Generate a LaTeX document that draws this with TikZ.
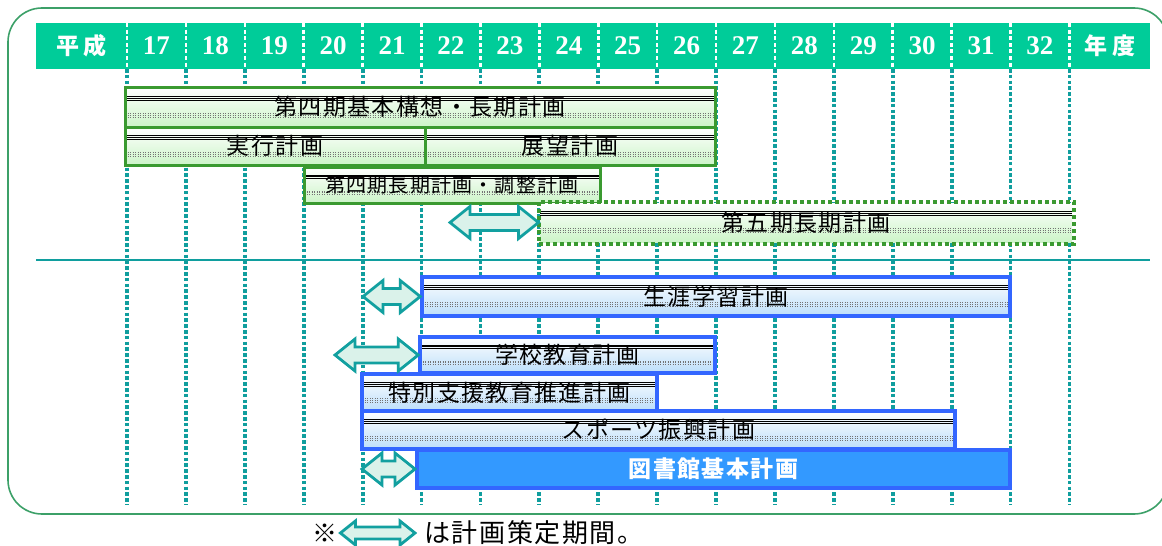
\documentclass[tikz,border=0pt]{standalone}
\usepackage{fontspec}
\setmainfont{Noto Sans CJK JP}
\newfontfamily\jp[LetterSpace=6]{Noto Sans CJK JP}
\newfontfamily\jphead[LetterSpace=20]{Noto Sans CJK JP}
\newfontfamily\numfont{Liberation Serif}
\usetikzlibrary{positioning, fit, calc}

\definecolor{headgreen}{RGB}{0,204,153}
\definecolor{gridteal}{RGB}{16,158,158}
\definecolor{framegreen}{RGB}{60,160,104}
\definecolor{bargreen}{RGB}{58,154,48}
\definecolor{greenfill}{RGB}{204,244,200}
\definecolor{barblue}{RGB}{51,102,255}
\definecolor{bluefill}{RGB}{188,222,250}
\definecolor{libblue}{RGB}{51,153,255}
\definecolor{arrowfill}{RGB}{218,242,234}
\definecolor{arrowteal}{RGB}{18,160,160}

\tikzstyle{frame}=[draw=framegreen, line width=0.8pt, rounded corners=17pt]
\tikzstyle{headband}=[fill=headgreen, inner sep=0pt]
\tikzstyle{headsep}=[white, line width=1.3pt, dash pattern=on 2pt off 1.3pt]
\tikzstyle{gridline}=[gridteal, line width=1.9pt, dash pattern=on 1.8pt off 1.1pt]
\tikzstyle{sepline}=[gridteal, line width=0.9pt]
\tikzstyle{headtext}=[white, font=\jphead\bfseries\fontsize{11.5}{12}\selectfont]
\tikzstyle{yeartext}=[white, font=\numfont\bfseries\fontsize{13.5}{14}\selectfont]
\tikzstyle{stripes}=[path picture={
  \foreach \f in {0.22,0.27,0.32}
    \draw[black, line width=0.3pt]
      ($(path picture bounding box.north west)!\f!(path picture bounding box.south west)$) --
      ($(path picture bounding box.north east)!\f!(path picture bounding box.south east)$);
  \foreach \f in {0.66,0.71,0.76}
    \draw[black!55, line width=0.25pt, densely dotted]
      ($(path picture bounding box.north west)!\f!(path picture bounding box.south west)$) --
      ($(path picture bounding box.north east)!\f!(path picture bounding box.south east)$);
}]
\tikzstyle{bar}=[inner sep=0pt]
\tikzstyle{greenbar}=[bar, draw=bargreen, line width=1.5pt, top color=white, bottom color=greenfill, stripes]
\tikzstyle{bluebar}=[bar, draw=barblue, line width=1.75pt, top color=white, bottom color=bluefill, stripes]
\tikzstyle{libbar}=[bar, draw=barblue, line width=2pt, fill=libblue]
\tikzstyle{bartext}=[inner sep=0pt, font=\jp\fontsize{11.5}{12}\selectfont]
\tikzstyle{smalltext}=[bartext, font=\jp\fontsize{10}{11}\selectfont]
\tikzstyle{libtext}=[bartext, text=white, font=\jp\bfseries\fontsize{11.5}{12}\selectfont]
\tikzstyle{planarrow}=[draw=arrowteal, line width=1.4pt, fill=arrowfill, line join=miter]
\tikzstyle{note}=[inner sep=1.25pt, font=\jp\fontsize{12.5}{13}\selectfont]

\newcommand{\dblarrow}[3][16]{%
  \draw[planarrow] (#2) -- ($(#2)+({1.25*#1},-#1)$) -- ++(0,{#1/2})
    -- ($(#3)+({-1.25*#1},{-#1/2})$) -- ++(0,{-#1/2}) -- (#3)
    -- ++({-1.25*#1},#1) -- ++(0,{-#1/2})
    -- ($(#2)+({1.25*#1},{#1/2})$) -- ++(0,{#1/2}) -- cycle;}

\begin{document}
\begin{tikzpicture}[x=0.5pt, y=-0.5pt]
  \useasboundingbox (0,0) rectangle (1162,546);
  \draw[frame] (8,8) rectangle (1168,514);
  \node[headband, fit={(36,23) (1150,69)}] (head) {};
  \foreach \i in {0,...,16} {
    \draw[headsep] ({127+58.9*\i},23) -- ({127+58.9*\i},69);
    \draw[gridline] ({127+58.9*\i},69) -- ({127+58.9*\i},505);
  }
  \node[headtext] (era) at (81.5,46) {平成};
  \foreach \y [count=\i from 0] in {17,...,32}
    \node[yeartext] (y\y) at ({127+58.9*(\i+0.5)},46) {\y};
  \node[headtext] (unit) at (1110,46) {年度};
  \draw[sepline] (36,260) -- (1150,260);

  \node[greenbar, fit={(125,87) (715,127)}] (plan4) {};
  \node[greenbar, fit={(125,127) (425,165)}] (exec) {};
  \node[greenbar, fit={(425,127) (715,165)}] (view) {};
  \node[greenbar, fit={(304,167) (600,203)}] (adjust) {};
  \node[greenbar, draw=none, fit={(540,203) (1072,242)}] (plan5) {};
  \draw[bargreen, line width=2pt, dash pattern=on 2pt off 1.5pt] (plan5.north west) rectangle (plan5.south east);
  \node[bartext] (plan4t) at (plan4) {第四期基本構想・長期計画};
  \node[bartext] (exect) at (exec) {実行計画};
  \node[bartext] (viewt) at (view) {展望計画};
  \node[smalltext] (adjustt) at (adjust) {第四期長期計画・調整計画};
  \node[bartext] (plan5t) at (plan5) {第五期長期計画};

  \node[bluebar, fit={(422,277) (1010,316)}] (life) {};
  \node[bluebar, fit={(420,337) (715,373)}] (school) {};
  \node[bluebar, fit={(362,374) (657,411)}] (special) {};
  \node[bluebar, fit={(362,411) (955,449)}] (sports) {};
  \node[libbar, fit={(417,450) (1010,488)}] (library) {};
  \node[bartext] (lifet) at (life) {生涯学習計画};
  \node[bartext] (schoolt) at (school) {学校教育計画};
  \node[bartext] (specialt) at (special) {特別支援教育推進計画};
  \node[bartext] (sportst) at (sports) {スポーツ振興計画};
  \node[libtext] (libraryt) at (library) {図書館基本計画};

  \coordinate (a5) at (450,222.5);
  \coordinate (alife) at (363,296.5);
  \coordinate (aschool) at (335,355);
  \coordinate (alib) at (362,469);
  \dblarrow{a5}{a5 -| plan5.west}
  \dblarrow{alife}{alife -| life.west}
  \dblarrow{aschool}{aschool -| school.west}
  \dblarrow{alib}{alib -| library.west}

  \node[note] (noteMark) at (325,533) {※};
  \node[note, anchor=west, inner sep=3pt, font=\jp\fontsize{13}{14}\selectfont] (noteText) at (418,533) {は計画策定期間。};
  \coordinate (noteR) at ($(noteText.west)+(-3,0)$);
  \dblarrow[12]{noteMark.east}{noteR}
\end{tikzpicture}
\end{document}
